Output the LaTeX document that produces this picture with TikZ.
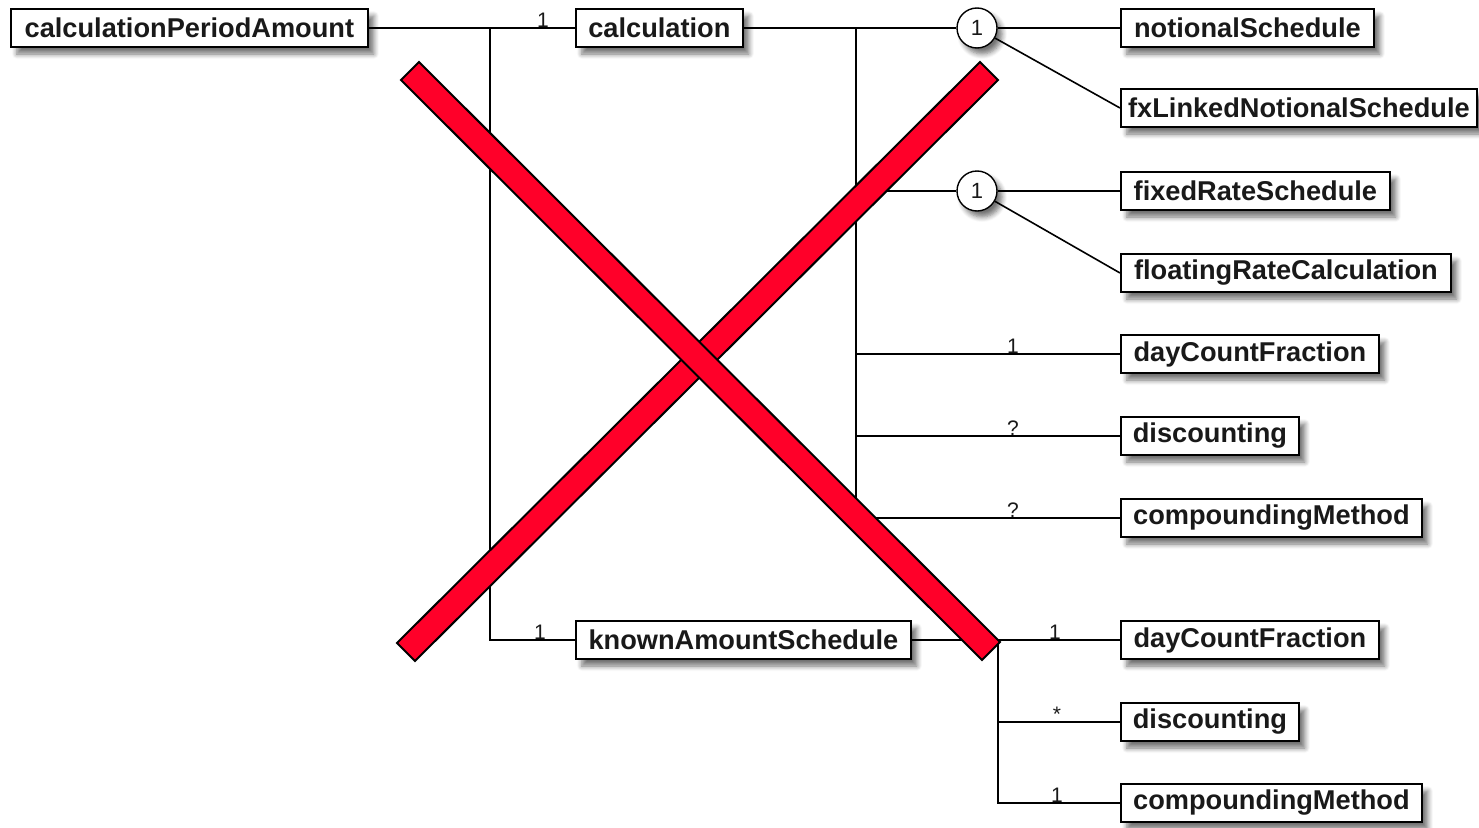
\documentclass[tikz,border=0pt]{standalone}
\usepackage{fontspec}
\setmainfont{Liberation Sans}
\usetikzlibrary{shadows.blur}
\definecolor{crossred}{RGB}{255,0,41}
\definecolor{inktext}{RGB}{25,25,25}
\tikzset{
  elem/.style={draw=black, line width=1.8pt, fill=white, rectangle,
    minimum height=38pt, inner sep=0pt, anchor=west,
    font=\fontsize{27.2}{30}\selectfont\bfseries, text=inktext,
    blur shadow={shadow xshift=6pt, shadow yshift=-7pt, shadow blur steps=6,
      shadow blur radius=5pt, shadow opacity=55}},
  choice/.style={draw=black, line width=1.4pt, fill=white, circle,
    minimum size=40pt, inner sep=0pt,
    font=\fontsize{22}{24}\selectfont, text=inktext,
    blur shadow={shadow xshift=5pt, shadow yshift=-6pt, shadow blur steps=6,
      shadow blur radius=5pt, shadow opacity=55}},
  link/.style={draw=black, line width=1.6pt},
  mult/.style={anchor=south, inner sep=0.5pt, font=\fontsize{21}{22}\selectfont, text=inktext},
  xbar/.style={fill=crossred, draw=black, line width=2pt, line join=miter}
}
\begin{document}
\begin{tikzpicture}[x=1pt, y=-1pt]
\useasboundingbox (0,0) rectangle (1479,827);

% element boxes
\node[elem, minimum width=357pt] (cpa) at (10,28) {calculationPeriodAmount};
\node[elem, minimum width=167pt] (calc) at (575,28) {calculation};
\node[elem, minimum width=335pt] (kas) at (575,640) {knownAmountSchedule};

\node[elem, minimum width=253pt] (ns) at (1120,28) {notionalSchedule};
\node[elem, minimum width=356pt] (fxl) at (1120,108) {fxLinkedNotionalSchedule};
\node[elem, minimum width=269pt] (frs) at (1120,191) {fixedRateSchedule};
\node[elem, minimum width=330pt] (frc) at (1120,273) {floatingRateCalculation};
\node[elem, minimum width=258pt] (dcf) at (1120,354) {dayCountFraction};
\node[elem, minimum width=178pt] (disc) at (1120,436) {discounting};
\node[elem, minimum width=301pt] (comp) at (1120,518) {compoundingMethod};
\node[elem, minimum width=258pt] (dcfb) at (1120,640) {dayCountFraction};
\node[elem, minimum width=178pt] (discb) at (1120,722) {discounting};
\node[elem, minimum width=301pt] (compb) at (1120,803) {compoundingMethod};

% choice circles
\node[choice] (ch1) at (977,28) {1};
\node[choice] (ch2) at (977,191) {1};

% junction points
\coordinate (j1) at (490,28);
\coordinate (j2) at (856,28);
\coordinate (j3) at (998,640);

% calculationPeriodAmount branches
\draw[link] (cpa.east) -- (calc.west);
\draw[link] (j1) |- (kas.west);
\node[mult] (m1) at (543,28) {1};
\node[mult] (m2) at (540,640) {1};

% calculation branches
\draw[link] (calc.east) -- (ch1.west);
\draw[link] (j2) |- (comp.west);
\draw[link] (j2 |- ch2) -- (ch2.west);
\draw[link] (j2 |- dcf) -- (dcf.west);
\draw[link] (j2 |- disc) -- (disc.west);
\node[mult] (m3) at (1013,354) {1};
\node[mult] (m4) at (1013,436) {?};
\node[mult] (m5) at (1013,518) {?};

% choice members
\draw[link] (ch1.east) -- (ns.west);
\draw[link] (ch1) -- (fxl.west);
\draw[link] (ch2.east) -- (frs.west);
\draw[link] (ch2) -- (frc.west);

% knownAmountSchedule branches
\draw[link] (kas.east) -- (dcfb.west);
\draw[link] (j3) |- (compb.west);
\draw[link] (j3 |- discb) -- (discb.west);
\node[mult] (m6) at (1055,640) {1};
\node[mult] (m7) at (1057,722) {*};
\node[mult] (m8) at (1057,803) {1};

% red cross
\draw[xbar] (980,62) -- (998,80) -- (415,661) -- (397,643) -- cycle;
\draw[xbar] (419,62) -- (1000,642) -- (982,660) -- (401,80) -- cycle;
\end{tikzpicture}
\end{document}
